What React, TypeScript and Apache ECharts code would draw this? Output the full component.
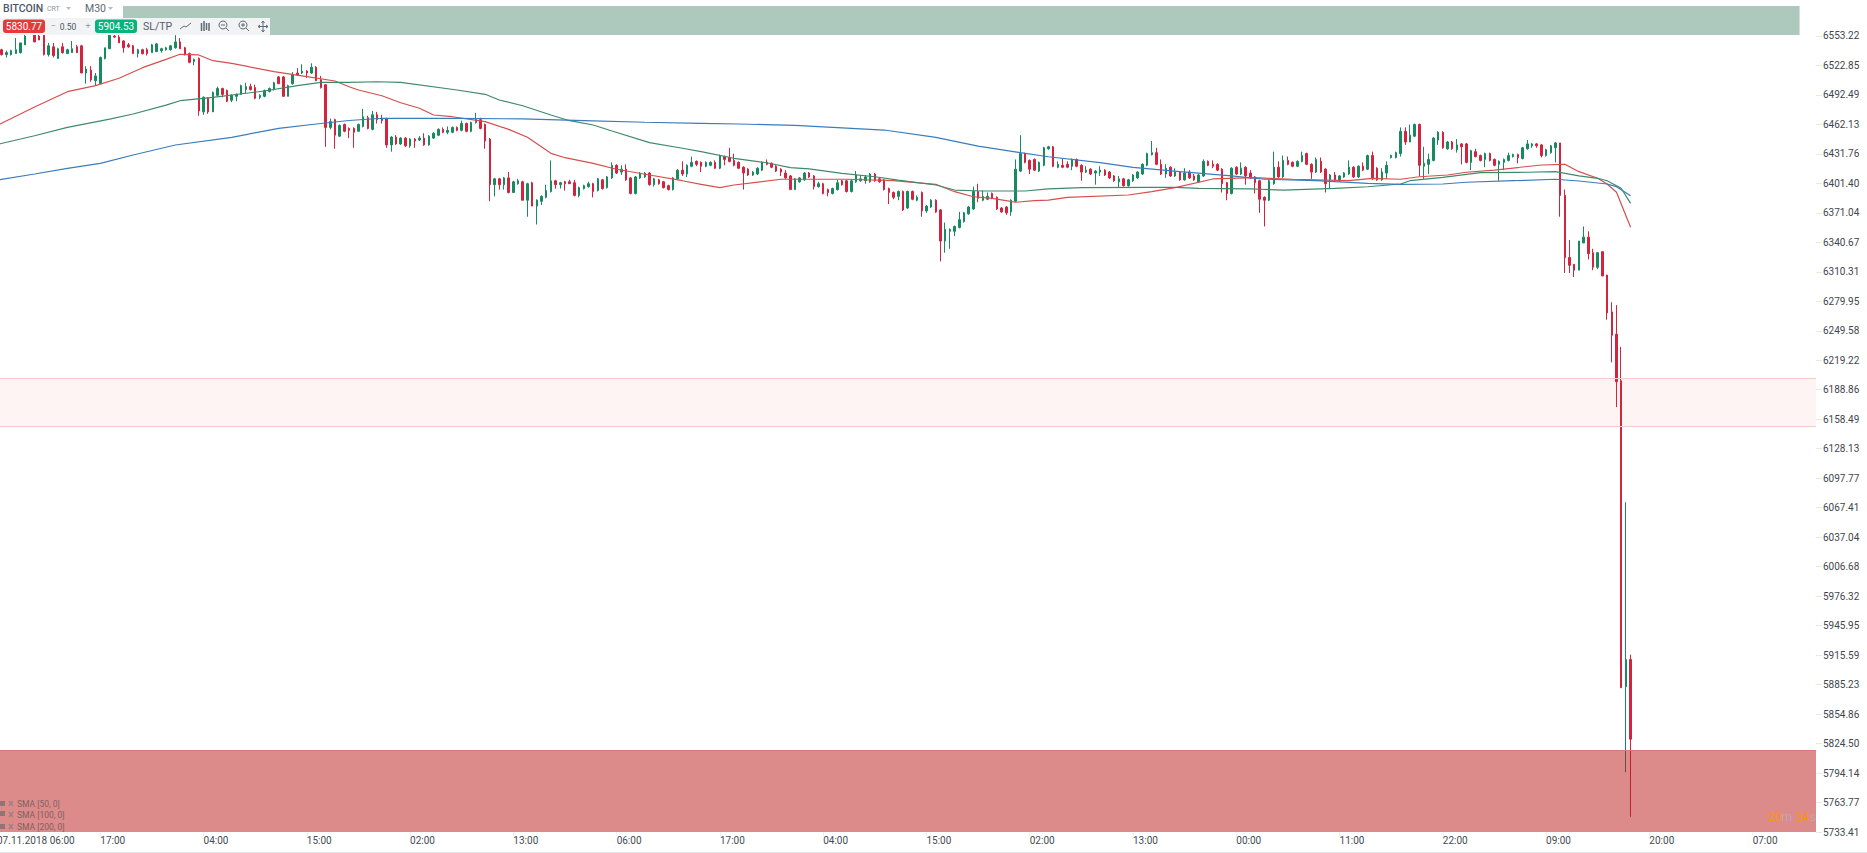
import React, { useEffect, useRef } from "react";
import * as echarts from "echarts";

const timeLabels = ["07.11.2018 06:00", "17:00", "04:00", "15:00", "02:00", "13:00", "06:00", "17:00", "04:00", "15:00", "02:00", "13:00", "00:00", "11:00", "22:00", "09:00", "20:00", "07:00"];
const priceTicks = [5733.41, 5763.77, 5794.14, 5824.5, 5854.86, 5885.23, 5915.59, 5945.95, 5976.32, 6006.68, 6037.04, 6067.41, 6097.77, 6128.13, 6158.49, 6188.86, 6219.22, 6249.58, 6279.95, 6310.31, 6340.67, 6371.04, 6401.4, 6431.76, 6462.13, 6492.49, 6522.85, 6553.22];
const slotCount = 388;
const slotsPerLabel = 22;
const priceMin = 5733.41;
const priceMax = 6590.2;

// open, close, low, high
const candles = [
[6530,6536,6528,6538],[6539,6534,6533,6540],[6534,6536,6531,6538],[6534,6538,6533,6539],[6535,6539,6535,6551],[6536,6546,6535,6546],[6544,6553,6544,6562],[6556,6560,6556,6565],[6554,6547,6547,6560],[6553,6549,6549,6556],
[6554,6534,6533,6558],[6534,6543,6532,6546],[6542,6533,6531,6546],[6530,6540,6530,6541],[6542,6536,6535,6546],[6535,6539,6535,6540],[6536,6540,6536,6548],[6542,6536,6536,6544],[6543,6515,6515,6544],[6515,6519,6504,6522],
[6518,6508,6506,6522],[6507,6512,6502,6515],[6504,6531,6504,6532],[6530,6541,6529,6541],[6540,6554,6540,6558],[6553,6552,6551,6556],[6552,6546,6546,6554],[6548,6541,6536,6549],[6544,6542,6541,6546],[6543,6535,6535,6544],
[6535,6539,6531,6540],[6539,6535,6534,6540],[6539,6535,6533,6541],[6536,6544,6536,6545],[6537,6545,6537,6546],[6538,6540,6536,6541],[6539,6541,6538,6542],[6539,6543,6538,6544],[6541,6547,6540,6554],[6547,6540,6540,6551],
[6541,6534,6533,6542],[6535,6526,6525,6536],[6527,6529,6523,6530],[6530,6476,6471,6531],[6475,6490,6472,6491],[6489,6475,6473,6490],[6475,6495,6475,6496],[6492,6499,6491,6501],[6499,6493,6490,6500],[6497,6486,6485,6498],
[6487,6492,6485,6493],[6491,6493,6486,6494],[6493,6502,6493,6503],[6498,6501,6494,6505],[6501,6498,6497,6504],[6500,6489,6488,6503],[6490,6492,6488,6493],[6491,6497,6490,6498],[6496,6499,6495,6500],[6498,6505,6497,6506],
[6511,6504,6504,6512],[6511,6491,6491,6512],[6491,6502,6491,6503],[6504,6513,6503,6516],[6515,6513,6512,6520],[6515,6517,6514,6524],[6517,6515,6510,6518],[6515,6521,6514,6525],[6521,6507,6507,6522],[6508,6500,6499,6512],
[6503,6459,6439,6503],[6459,6465,6457,6468],[6467,6451,6437,6468],[6450,6461,6449,6462],[6462,6455,6454,6463],[6458,6456,6448,6459],[6458,6454,6438,6459],[6455,6462,6455,6463],[6460,6470,6459,6478],[6469,6458,6457,6471],
[6457,6472,6456,6476],[6472,6467,6463,6475],[6468,6466,6463,6472],[6468,6441,6438,6469],[6441,6449,6434,6450],[6449,6442,6441,6451],[6442,6448,6441,6449],[6448,6440,6439,6449],[6440,6447,6438,6448],[6447,6445,6438,6448],
[6446,6448,6445,6450],[6448,6441,6440,6453],[6441,6450,6440,6451],[6448,6453,6447,6454],[6451,6457,6450,6458],[6457,6454,6453,6459],[6454,6456,6452,6460],[6454,6459,6453,6460],[6459,6456,6455,6460],[6456,6463,6455,6466],
[6463,6455,6454,6464],[6455,6464,6454,6465],[6464,6467,6463,6474],[6467,6458,6457,6469],[6462,6445,6437,6463],[6447,6400,6383,6448],[6400,6406,6388,6407],[6406,6400,6395,6407],[6400,6407,6395,6408],[6407,6392,6391,6413],
[6392,6403,6392,6404],[6401,6404,6400,6406],[6403,6384,6384,6404],[6384,6401,6367,6402],[6402,6378,6378,6403],[6378,6384,6359,6385],[6383,6388,6379,6389],[6387,6394,6386,6400],[6393,6404,6392,6425],[6404,6400,6396,6405],
[6400,6402,6396,6403],[6403,6401,6394,6404],[6403,6401,6401,6405],[6402,6389,6388,6405],[6389,6397,6387,6398],[6396,6399,6395,6400],[6398,6401,6397,6403],[6401,6393,6387,6402],[6394,6406,6393,6407],[6405,6396,6395,6406],
[6397,6408,6396,6409],[6407,6420,6406,6423],[6420,6412,6411,6421],[6413,6416,6410,6420],[6416,6405,6404,6421],[6407,6391,6390,6408],[6391,6408,6390,6409],[6407,6412,6406,6413],[6408,6412,6407,6413],[6412,6400,6399,6413],
[6400,6406,6398,6407],[6405,6401,6400,6406],[6403,6397,6396,6404],[6399,6395,6394,6400],[6395,6407,6394,6408],[6406,6415,6405,6416],[6415,6411,6409,6424],[6411,6420,6408,6421],[6419,6423,6418,6429],[6424,6421,6419,6425],
[6423,6419,6413,6424],[6419,6423,6418,6424],[6420,6423,6419,6424],[6423,6417,6416,6425],[6417,6430,6416,6431],[6429,6426,6420,6430],[6428,6424,6423,6438],[6425,6420,6419,6432],[6423,6417,6416,6424],[6418,6412,6395,6419],
[6416,6410,6409,6417],[6410,6413,6409,6414],[6411,6417,6410,6418],[6415,6423,6414,6424],[6423,6421,6420,6426],[6422,6418,6417,6423],[6419,6414,6413,6420],[6416,6413,6409,6417],[6412,6407,6406,6415],[6409,6395,6395,6410],
[6395,6406,6395,6407],[6403,6407,6402,6408],[6405,6412,6404,6413],[6412,6408,6407,6413],[6409,6398,6395,6410],[6398,6401,6397,6403],[6401,6391,6390,6402],[6395,6392,6388,6396],[6391,6396,6390,6397],[6395,6402,6394,6405],
[6404,6400,6399,6405],[6404,6393,6392,6405],[6393,6404,6392,6405],[6403,6410,6402,6414],[6404,6406,6403,6410],[6404,6408,6401,6410],[6403,6411,6402,6412],[6411,6404,6403,6412],[6406,6403,6402,6407],[6405,6395,6394,6406],
[6396,6392,6380,6397],[6392,6387,6385,6393],[6388,6393,6384,6394],[6393,6374,6373,6394],[6376,6393,6375,6394],[6393,6385,6384,6394],[6384,6387,6383,6389],[6392,6373,6367,6393],[6373,6378,6371,6379],[6377,6384,6376,6385],
[6384,6372,6371,6385],[6374,6342,6321,6375],[6342,6354,6330,6361],[6352,6354,6334,6355],[6352,6357,6347,6358],[6356,6364,6355,6372],[6362,6371,6361,6372],[6370,6377,6369,6378],[6375,6393,6374,6398],[6393,6386,6382,6401],
[6384,6388,6383,6394],[6385,6388,6384,6392],[6391,6386,6385,6392],[6387,6375,6374,6388],[6376,6372,6371,6377],[6377,6371,6369,6378],[6372,6384,6368,6385],[6383,6416,6382,6426],[6414,6432,6413,6451],[6432,6423,6422,6433],
[6425,6416,6411,6426],[6426,6415,6414,6427],[6414,6423,6413,6424],[6420,6438,6419,6439],[6437,6439,6436,6440],[6439,6419,6418,6440],[6418,6421,6417,6424],[6420,6418,6417,6427],[6421,6418,6417,6424],[6419,6426,6415,6427],
[6426,6419,6418,6427],[6420,6413,6404,6421],[6413,6415,6412,6419],[6416,6411,6410,6417],[6412,6414,6400,6415],[6413,6415,6409,6419],[6415,6410,6409,6416],[6413,6407,6406,6414],[6409,6404,6403,6410],[6403,6406,6397,6409],
[6406,6399,6398,6407],[6399,6405,6398,6406],[6404,6410,6403,6411],[6407,6413,6406,6414],[6411,6421,6410,6422],[6420,6432,6419,6433],[6431,6433,6430,6445],[6433,6421,6420,6438],[6421,6411,6410,6426],[6411,6417,6407,6421],
[6418,6409,6408,6419],[6409,6413,6408,6417],[6413,6405,6404,6414],[6405,6412,6404,6417],[6413,6407,6406,6415],[6409,6405,6404,6411],[6403,6410,6402,6411],[6409,6424,6408,6426],[6424,6420,6419,6425],[6421,6419,6417,6425],
[6421,6415,6414,6422],[6416,6401,6392,6417],[6402,6391,6384,6403],[6391,6417,6390,6418],[6418,6411,6410,6419],[6411,6417,6410,6423],[6418,6409,6400,6419],[6412,6407,6406,6415],[6408,6402,6391,6409],[6404,6385,6371,6405],
[6387,6384,6357,6388],[6384,6404,6383,6405],[6401,6418,6400,6434],[6418,6408,6407,6424],[6408,6425,6407,6430],[6425,6421,6420,6429],[6423,6419,6418,6424],[6419,6424,6418,6425],[6424,6430,6423,6434],[6432,6421,6420,6433],
[6421,6413,6406,6422],[6413,6426,6412,6428],[6424,6413,6412,6428],[6416,6401,6392,6417],[6405,6410,6396,6411],[6410,6405,6404,6413],[6404,6409,6403,6410],[6408,6412,6407,6413],[6411,6418,6410,6425],[6418,6408,6407,6419],
[6408,6419,6407,6420],[6419,6415,6414,6423],[6416,6430,6415,6431],[6430,6406,6405,6434],[6417,6405,6404,6418],[6405,6413,6404,6417],[6412,6420,6406,6424],[6428,6430,6427,6431],[6428,6433,6427,6434],[6432,6455,6429,6459],
[6455,6444,6441,6459],[6444,6451,6444,6462],[6450,6462,6449,6463],[6462,6420,6409,6463],[6419,6422,6406,6439],[6421,6426,6411,6432],[6425,6448,6424,6449],[6446,6454,6441,6455],[6454,6438,6437,6455],[6437,6444,6436,6445],
[6444,6437,6436,6445],[6436,6441,6433,6447],[6442,6439,6421,6443],[6442,6423,6422,6443],[6423,6435,6415,6436],[6434,6429,6428,6437],[6430,6425,6424,6431],[6426,6432,6418,6433],[6432,6425,6424,6433],[6426,6420,6419,6427],
[6421,6424,6404,6425],[6423,6426,6415,6427],[6425,6430,6424,6433],[6429,6431,6428,6432],[6431,6428,6422,6432],[6427,6438,6426,6439],[6437,6442,6436,6446],[6440,6442,6438,6443],[6442,6440,6438,6443],[6441,6430,6428,6442],
[6430,6436,6429,6437],[6433,6440,6432,6441],[6438,6443,6423,6444],[6443,6389,6367,6443],[6389,6325,6309,6395],[6325,6317,6309,6343],[6318,6312,6305,6318],[6312,6342,6312,6342],[6340,6346,6340,6357],[6346,6329,6323,6352],
[6330,6315,6312,6334],[6315,6330,6313,6330],[6331,6306,6306,6331],[6307,6268,6261,6307],[6269,6245,6217,6279],[6246,6197,6171,6276],[6198,5882,5882,6233],[5883,5911,5795,6073],[5911,5829,5749,5916],
];

// slot index, price
const sma50 = [[0,6461],[8,6480],[15,6495.8],[21,6502],[26,6509.6],[31,6520.5],[36,6529.1],[39,6534.3],[43,6533.6],[46,6527.7],[50,6525],[59,6516.4],[66,6511.2],[72,6506.8],[75,6500.9],[77,6497.5],[82,6491.6],[86,6484.4],[90,6478.7],[93,6471.8],[97,6470],[104,6464.9],[109,6457],[113,6448.8],[118,6432.3],[121,6427.8],[127,6422],[132,6415.9],[139,6410],[146,6404.1],[150,6400.4],[154,6396.9],[157,6399.7],[167,6405.6],[181,6405.6],[191,6404.1],[200,6400.4],[204,6392.8],[208,6387.6],[212,6386],[217,6381.9],[221,6383.5],[224,6384.2],[228,6387],[241,6389.4],[246,6392.8],[251,6396.9],[259,6405.9],[268,6407.2],[276,6405.6],[288,6404.1],[293,6406.6],[299,6405.6],[303,6408.2],[309,6410],[313,6412.8],[319,6415.1],[329,6420.3],[334,6421],[337,6413.4],[341,6406.6],[343,6400.7],[345,6392.2],[348,6356.1]];
const sma100 = [[0,6441.4],[8,6450.4],[15,6459.1],[24,6467.6],[29,6472.8],[36,6482],[39,6486.5],[46,6490],[57,6496.5],[64,6502],[69,6505.4],[75,6505.4],[81,6506],[86,6505.4],[98,6497.5],[104,6493.1],[107,6487.2],[112,6481.3],[118,6471.8],[122,6465.9],[127,6461.5],[131,6455.3],[139,6443.3],[146,6437.5],[150,6434],[157,6427.2],[164,6422.6],[169,6417.5],[173,6416.2],[180,6411.7],[187,6408.2],[192,6404.8],[200,6399.7],[204,6394.5],[210,6393.5],[219,6393.5],[224,6395.6],[231,6396.9],[246,6397.3],[251,6397.3],[256,6396.3],[267,6395.6],[274,6394.5],[285,6396.3],[292,6397.9],[299,6400.7],[301,6404.1],[308,6407.6],[316,6412.4],[326,6412.8],[332,6413.4],[337,6409],[341,6406.6],[343,6404.1],[346,6396.3],[348,6380.8]];
const sma200 = [[0,6404.8],[8,6411],[15,6416.9],[22,6422],[29,6430.6],[38,6440.9],[50,6448.8],[60,6458],[68,6462.5],[75,6466.1],[82,6468.4],[97,6468.4],[112,6467.7],[125,6465.9],[138,6464.3],[150,6463.2],[158,6462.5],[170,6461],[189,6456.3],[200,6448.8],[209,6439.8],[218,6433],[224,6428.8],[235,6422.7],[242,6417.9],[252,6413.4],[263,6409],[270,6405.6],[281,6404.1],[292,6401.4],[299,6400.4],[308,6400.7],[313,6402.5],[323,6404.1],[332,6405.6],[337,6403.8],[343,6400.7],[345,6398],[348,6388.7]];

const headerZone = { low: 6554.2, high: 6584, lastSlot: 384 };
const paleZone = { low: 6151.5, high: 6200.6 };
const redZone = { high: 5817.8 };

const FONT = "Roboto, sans-serif";
const Z = 100;
const SHIFT = 6;

function txt(text: string, x: number, y: number, fontSize: number, fill: string, extra: any = {}) {
  return { type: "text", z: Z + 1, silent: true, x, y, style: { text, fontSize, fontFamily: FONT, fill, verticalAlign: "middle", ...extra } };
}
function box(x: number, y: number, width: number, height: number, fill: string, r = 0) {
  return { type: "rect", z: Z, silent: true, shape: { x, y, width, height, r }, style: { fill } };
}
function seg(x1: number, y1: number, x2: number, y2: number, stroke: string, lineWidth = 1) {
  return { type: "line", z: Z + 1, silent: true, shape: { x1, y1, x2, y2 }, style: { stroke, lineWidth } };
}
function tri(x: number, y: number, w: number, fill: string) {
  return { type: "polygon", z: Z + 1, silent: true, shape: { points: [[x, y], [x + w, y], [x + w / 2, y + 3]] }, style: { fill } };
}

const iconColor = "#5f6b76";
const chrome: any[] = [
  box(-SHIFT, 0, 123 + SHIFT, 18, "#ffffff"),
  box(-SHIFT, 18, 270 + SHIFT, 17, "#f1f3f4"),
  txt("BITCOIN", 3, 8, 10.5, "#4b5967", { fontWeight: 500 }),
  txt("CRT", 47, 8.5, 7, "#8d97a1"),
  tri(66, 7, 5, "#b6bcc2"),
  txt("M30", 85, 8, 10.5, "#5c6873"),
  tri(108, 7, 5, "#b6bcc2"),
  box(3, 19.5, 42, 13.5, "#e53a3a", 3),
  txt("5830.77", 24, 26.5, 10, "#ffffff", { align: "center" }),
  txt("−", 53, 26, 9, "#9aa2a9", { align: "center" }),
  txt("0.50", 68, 26.5, 8.5, "#4d5560", { align: "center" }),
  txt("+", 88, 26, 9, "#9aa2a9", { align: "center" }),
  box(95, 19.5, 42, 13.5, "#06b37d", 3),
  txt("5904.53", 116, 26.5, 10, "#ffffff", { align: "center" }),
  txt("SL/TP", 143, 26.5, 10.5, "#52606d"),
  { type: "polyline", z: Z + 1, silent: true, shape: { points: [[180, 29], [184, 26], [186, 27], [191, 23]] }, style: { stroke: iconColor, fill: "none", lineWidth: 1 } },
  seg(201.5, 23, 201.5, 31, iconColor, 1.5), seg(204, 21, 204, 31, iconColor, 1.5), seg(206.5, 23, 206.5, 30, iconColor, 1.5), seg(209, 23, 209, 31, iconColor, 1.5),
  { type: "circle", z: Z + 1, silent: true, shape: { cx: 223, cy: 25, r: 4 }, style: { stroke: iconColor, fill: "none", lineWidth: 1 } },
  seg(226, 28, 229, 31, iconColor), seg(221, 25, 225, 25, iconColor),
  { type: "circle", z: Z + 1, silent: true, shape: { cx: 243, cy: 25, r: 4 }, style: { stroke: iconColor, fill: "none", lineWidth: 1 } },
  seg(246, 28, 249, 31, iconColor), seg(241, 25, 245, 25, iconColor), seg(243, 23, 243, 27, iconColor),
  seg(263, 21, 263, 32, iconColor), seg(258, 26.5, 268, 26.5, iconColor),
  seg(263, 21, 261.5, 23, iconColor), seg(263, 21, 264.5, 23, iconColor), seg(263, 32, 261.5, 30, iconColor), seg(263, 32, 264.5, 30, iconColor),
  seg(258, 26.5, 260, 25, iconColor), seg(258, 26.5, 260, 28, iconColor), seg(268, 26.5, 266, 25, iconColor), seg(268, 26.5, 266, 28, iconColor),
  // indicator list
  box(0, 801, 5, 5, "#8f7474"), seg(9, 801, 13, 806, "#a07f7f", 1.5), seg(13, 801, 9, 806, "#a07f7f", 1.5),
  txt("SMA [50, 0]", 17, 804, 8.5, "#7d6262"),
  box(0, 811, 5, 5, "#8f7474"), seg(9, 812, 13, 817, "#a07f7f", 1.5), seg(13, 812, 9, 817, "#a07f7f", 1.5),
  txt("SMA [100, 0]", 17, 815, 8.5, "#7d6262"),
  box(0, 824, 5, 5, "#8f7474"), seg(9, 824, 13, 829, "#a07f7f", 1.5), seg(13, 824, 9, 829, "#a07f7f", 1.5),
  txt("SMA [200, 0]", 17, 827, 8.5, "#7d6262"),
  { type: "text", z: Z + 1, silent: true, x: 1816, y: 816, style: { text: "{o|20}{g|m} {o|34}{g|s}", align: "right", verticalAlign: "middle", rich: { o: { fill: "#f7941e", fontSize: 12.5, fontFamily: FONT }, g: { fill: "#c4a8a4", fontSize: 12.5, fontFamily: FONT } } } },
  seg(-SHIFT, 852.5, 1867, 852.5, "#e3e7ec"),
];

export default function App() {
  const ref = useRef<HTMLDivElement>(null);
  useEffect(() => {
    const chart = echarts.init(ref.current!, undefined, { renderer: "svg" });
    const categories = Array.from({ length: slotCount }, (_, i) => (i % slotsPerLabel === 0 ? timeLabels[i / slotsPerLabel] ?? "" : ""));
    const lineSeries = (name: string, data: number[][], color: string) => ({
      name, type: "line", data, showSymbol: false, symbol: "none", silent: true, z: 3,
      lineStyle: { color, width: 1.2 },
    });
    chart.setOption({
      animation: false,
      backgroundColor: "#ffffff",
      grid: { left: 0.2, top: 0, width: 1821.8, height: 832, containLabel: false },
      xAxis: {
        type: "category", data: categories, boundaryGap: true,
        axisLine: { show: false },
        axisTick: { show: true, interval: slotsPerLabel - 1, alignWithLabel: true, length: 4, lineStyle: { color: "#eceff1" } },
        axisLabel: { show: true, interval: slotsPerLabel - 1, align: "left", margin: 3, fontSize: 10, fontFamily: FONT, color: "#444b52" },
        splitLine: { show: false },
      },
      yAxis: {
        type: "value", position: "right", min: priceMin, max: priceMax, scale: true,
        axisLine: { show: false },
        splitLine: { show: false },
        axisTick: { show: true, length: 6, customValues: priceTicks, lineStyle: { color: "#e6e8ea" } },
        axisLabel: { show: true, margin: 7, fontSize: 10, fontFamily: FONT, color: "#3f464d", padding: [2, 0, 0, 0], customValues: priceTicks, formatter: (v: number) => v.toFixed(2), alignMinLabel: "bottom", showMinLabel: true, showMaxLabel: true },
      },
      series: [
        {
          type: "candlestick", data: candles, barWidth: 2, z: 2, silent: true,
          itemStyle: { color: "#178a60", color0: "#d2243f", borderColor: "#178a60", borderColor0: "#d2243f", borderWidth: 1 },
        },
        lineSeries("SMA [50, 0]", sma50, "#d64f4e"),
        lineSeries("SMA [100, 0]", sma100, "#3f8a6b"),
        lineSeries("SMA [200, 0]", sma200, "#3a7cbc"),
        {
          type: "line", data: [], silent: true, z: 4,
          markArea: {
            silent: true, z: 5,
            data: [
              [{ yAxis: headerZone.high, xAxis: 0, itemStyle: { color: "#adc9bd" } }, { yAxis: headerZone.low, xAxis: headerZone.lastSlot }],
              [{ yAxis: paleZone.high, itemStyle: { color: "rgba(240,70,50,0.06)" } }, { yAxis: paleZone.low }],
              [{ yAxis: redZone.high, itemStyle: { color: "rgba(187,21,21,0.5)" } }, { yAxis: priceMin }],
            ],
          },
          markLine: {
            silent: true, z: 6, symbol: "none", label: { show: false },
            data: [
              { yAxis: paleZone.high, lineStyle: { color: "#f7c9c9", width: 1, type: "solid" } },
              { yAxis: paleZone.low, lineStyle: { color: "#f7c9c9", width: 1, type: "solid" } },
              { yAxis: redZone.high, lineStyle: { color: "#d97a78", width: 1, type: "solid" } },
            ],
          },
        },
      ],
      graphic: { elements: [{ type: "group", x: SHIFT, y: 0, children: chrome }] },
    });
    return () => chart.dispose();
  }, []);
  return <div ref={ref} style={{ position: "fixed", left: -SHIFT, top: 0, width: 1867 + SHIFT, height: 853 }} />;
}
